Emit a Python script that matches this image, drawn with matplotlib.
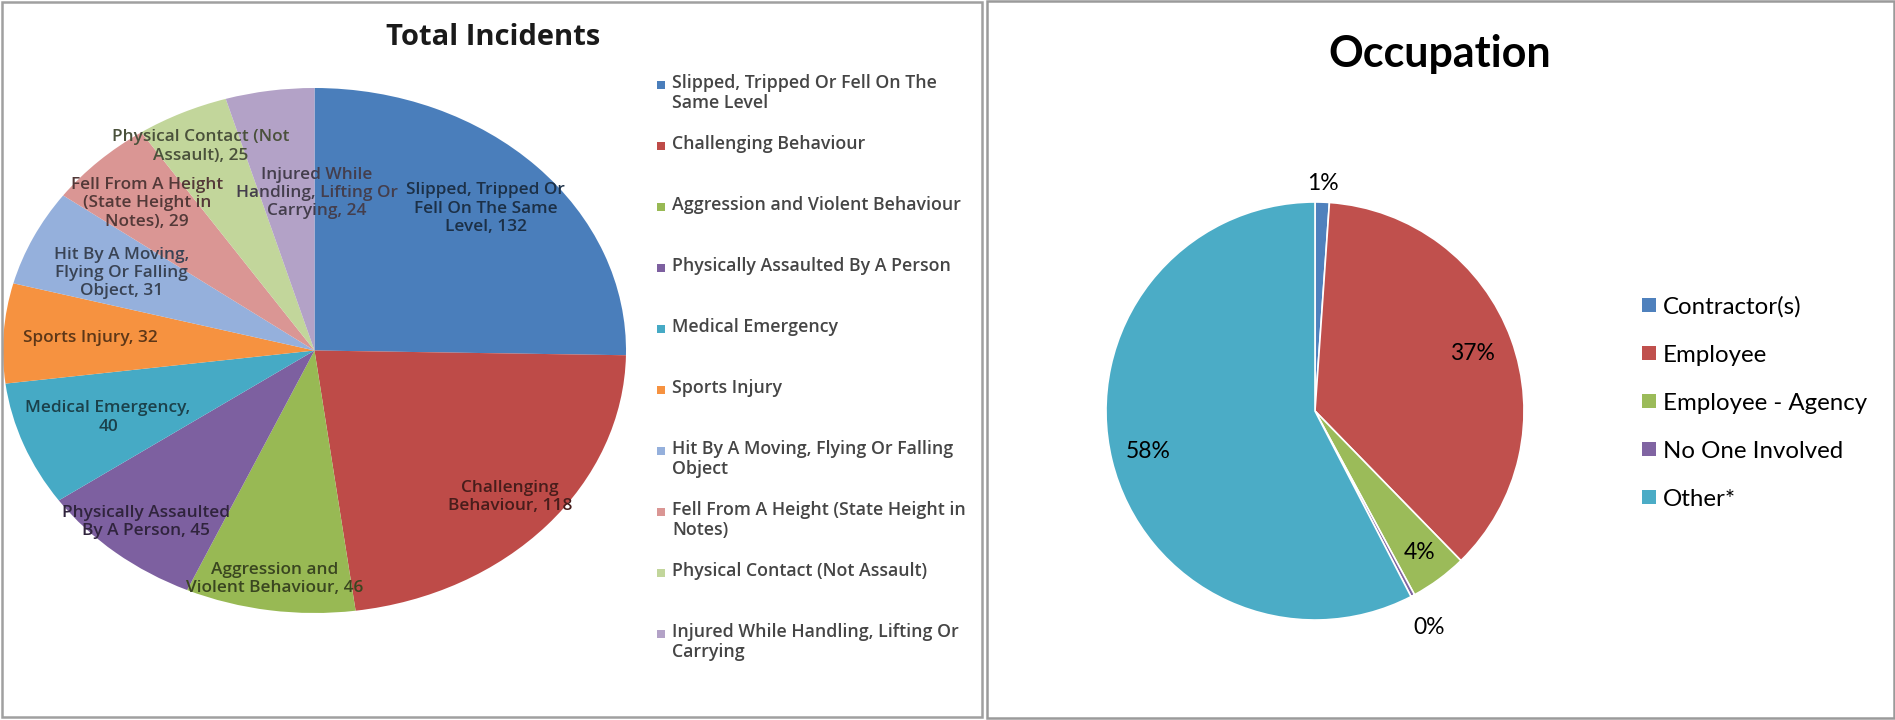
import matplotlib
matplotlib.use("Agg")
import matplotlib.pyplot as plt
from matplotlib.patches import Rectangle
import matplotlib.colors as mcolors
import numpy as np
import textwrap

# ---------------- data ----------------
incident_categories = [
    "Slipped, Tripped Or Fell On The Same Level",
    "Challenging Behaviour",
    "Aggression and Violent Behaviour",
    "Physically Assaulted By A Person",
    "Medical Emergency",
    "Sports Injury",
    "Hit By A Moving, Flying Or Falling Object",
    "Fell From A Height (State Height in Notes)",
    "Physical Contact (Not Assault)",
    "Injured While Handling, Lifting Or Carrying",
]
# data-label wrapping as shown on the chart
incident_label_names = [
    "Slipped, Tripped Or\nFell On The Same\nLevel",
    "Challenging\nBehaviour",
    "Aggression and\nViolent Behaviour",
    "Physically Assaulted\nBy A Person",
    "Medical Emergency,\n",
    "Sports Injury",
    "Hit By A Moving,\nFlying Or Falling\nObject",
    "Fell From A Height\n(State Height in\nNotes)",
    "Physical Contact (Not\nAssault)",
    "Injured While\nHandling, Lifting Or\nCarrying",
]
incident_counts = [132, 118, 46, 45, 40, 32, 31, 29, 25, 24]
incident_colors = ["#4A7EBB", "#BE4B48", "#98B954", "#7D60A0", "#46AAC5",
                   "#F69240", "#95B0DC", "#DA9694", "#C2D69B", "#B3A2C7"]

occupation_categories = ["Contractor(s)", "Employee", "Employee - Agency",
                         "No One Involved", "Other*"]
occupation_share = [1.1, 36.6, 4.4, 0.3, 57.6]
occupation_colors = ["#4F81BD", "#C0504D", "#9BBB59", "#8064A2", "#4BACC6"]

# ---------------- layout helpers ----------------
W, H = 1895, 720
fig = plt.figure(figsize=(W / 100, H / 100), dpi=100)
fig.patch.set_facecolor("white")


def px_axes(left, top, width, height):
    return fig.add_axes([left / W, 1 - (top + height) / H, width / W, height / H])


def fx(x):
    return x / W


def fy(y):
    return 1 - y / H


def darken(c, f=0.38):
    r, g, b = mcolors.to_rgb(c)
    return (r * f, g * f, b * f)


# panel borders
fig.patches.append(Rectangle((fx(1.5), fy(717)), (982 - 1.5) / W, 715.5 / H,
                             transform=fig.transFigure, fill=False,
                             ec="#A0A0A0", lw=1.8))
fig.patches.append(Rectangle((fx(987), fy(718)), (1893.5 - 987) / W, 717 / H,
                             transform=fig.transFigure, fill=False,
                             ec="#9A9A9A", lw=1.8))

LEFT_FONT = "Open Sans"
RIGHT_FONT = "Lato"

# ---------------- left: Total Incidents ----------------
ax1 = px_axes(3, 88, 623, 525)
wedges1, _ = ax1.pie(incident_counts, colors=incident_colors, startangle=90,
                     counterclock=False, wedgeprops=dict(linewidth=0))
ax1.set_aspect("auto")
ax1.set_xlim(-1, 1)
ax1.set_ylim(-1, 1)
ax1.axis("off")

label_r = [0.77, 0.84, 0.88, 0.85, 0.71, 0.72, 0.685, 0.777, 0.858, 0.60]
label_dth = [0, 0, 0, 0, 0, 0, 0, 0, 0, -9]
for w, name, n, col, r, dth in zip(wedges1, incident_label_names, incident_counts,
                                    incident_colors, label_r, label_dth):
    mid = np.deg2rad((w.theta1 + w.theta2) / 2 + dth)
    if name.endswith("\n"):
        txt = f"{name}{n}"
    else:
        txt = f"{name}, {n}"
    ax1.text(r * np.cos(mid), r * np.sin(mid), txt, ha="center", va="center",
             fontsize=12.4, color=darken(col), family=LEFT_FONT,
             fontweight="semibold", linespacing=1.2, clip_on=False)

fig.text(fx(493), fy(45), "Total Incidents", ha="center", va="baseline",
         fontsize=21, fontweight="bold", family=LEFT_FONT, color="#1a1a1a")

for i, (cat, col) in enumerate(zip(incident_categories, incident_colors)):
    yc = 85 + i * 61.0
    fig.patches.append(Rectangle((fx(657), fy(yc + 4)), 8 / W, 8 / H,
                                 transform=fig.transFigure, fc=col, ec="none"))
    fig.text(fx(672), fy(yc - 11), textwrap.fill(cat, 35), ha="left", va="top",
             fontsize=12.8, family=LEFT_FONT, fontweight="semibold",
             color="#454545", linespacing=1.15)

# ---------------- right: Occupation ----------------
ax2 = px_axes(1106, 202, 418, 418)
wedges2, _ = ax2.pie(occupation_share, colors=occupation_colors, startangle=90,
                     counterclock=False,
                     wedgeprops=dict(linewidth=1.2, edgecolor="white"))
ax2.set_aspect("auto")
ax2.set_xlim(-1, 1)
ax2.set_ylim(-1, 1)
ax2.axis("off")

pct_r = [1.09, 0.80, 0.84, 1.17, 0.82]
for w, v, r in zip(wedges2, occupation_share, pct_r):
    mid = np.deg2rad((w.theta1 + w.theta2) / 2)
    ax2.text(r * np.cos(mid), r * np.sin(mid), f"{v:.0f}%", ha="center",
             va="center", fontsize=16.5, family=RIGHT_FONT, color="black",
             clip_on=False)

fig.text(fx(1440), fy(67), "Occupation", ha="center", va="baseline",
         fontsize=31, fontweight="bold", family=RIGHT_FONT, color="black")

for i, (cat, col) in enumerate(zip(occupation_categories, occupation_colors)):
    yc = 305 + i * 48.0
    fig.patches.append(Rectangle((fx(1642), fy(yc + 7)), 14 / W, 14 / H,
                                 transform=fig.transFigure, fc=col, ec="none"))
    fig.text(fx(1663), fy(yc), cat, ha="left", va="center_baseline",
             fontsize=17.3, family=RIGHT_FONT, color="black")

fig.savefig("out.png", dpi=100, facecolor="white")
